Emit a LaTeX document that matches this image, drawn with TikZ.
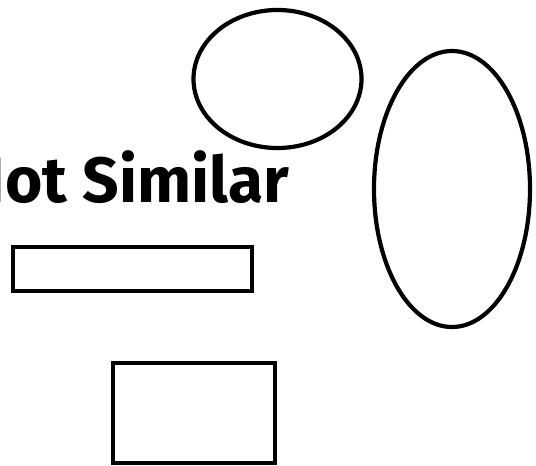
\documentclass[tikz,border=0pt]{standalone}
\usepackage{fontspec}
\setsansfont{Fira Sans}
\usepackage{tikz}
\usetikzlibrary{positioning,shapes.geometric}
\tikzset{
  outl/.style={draw=black, line width=4.2pt, inner sep=0pt, fill=white},
  oval/.style={outl, ellipse, minimum width=#1},
  box/.style={outl, rectangle, minimum width=#1},
  lbl/.style={font=\sffamily\bfseries\fontsize{64}{64}\selectfont, text=black, inner sep=0pt},
}

\begin{document}
\begin{tikzpicture}[x=1pt,y=-1pt]
  \useasboundingbox (0,0) rectangle (536,466);
  % shapes
  \node[oval=168pt, minimum height=138pt] (round) at (277.5,79) {};
  \node[oval=156pt, minimum height=276pt] (tall) at (452,189) {};
  \node[box=239pt, minimum height=44pt] (flat) at (132.5,269) {};
  \node[box=162pt, minimum height=100pt] (block) at (194,413) {};
  % heading, cut at the left edge
  \node[lbl, anchor=base east] (title) at (289,202) {Not Similar};
\end{tikzpicture}
\end{document}
